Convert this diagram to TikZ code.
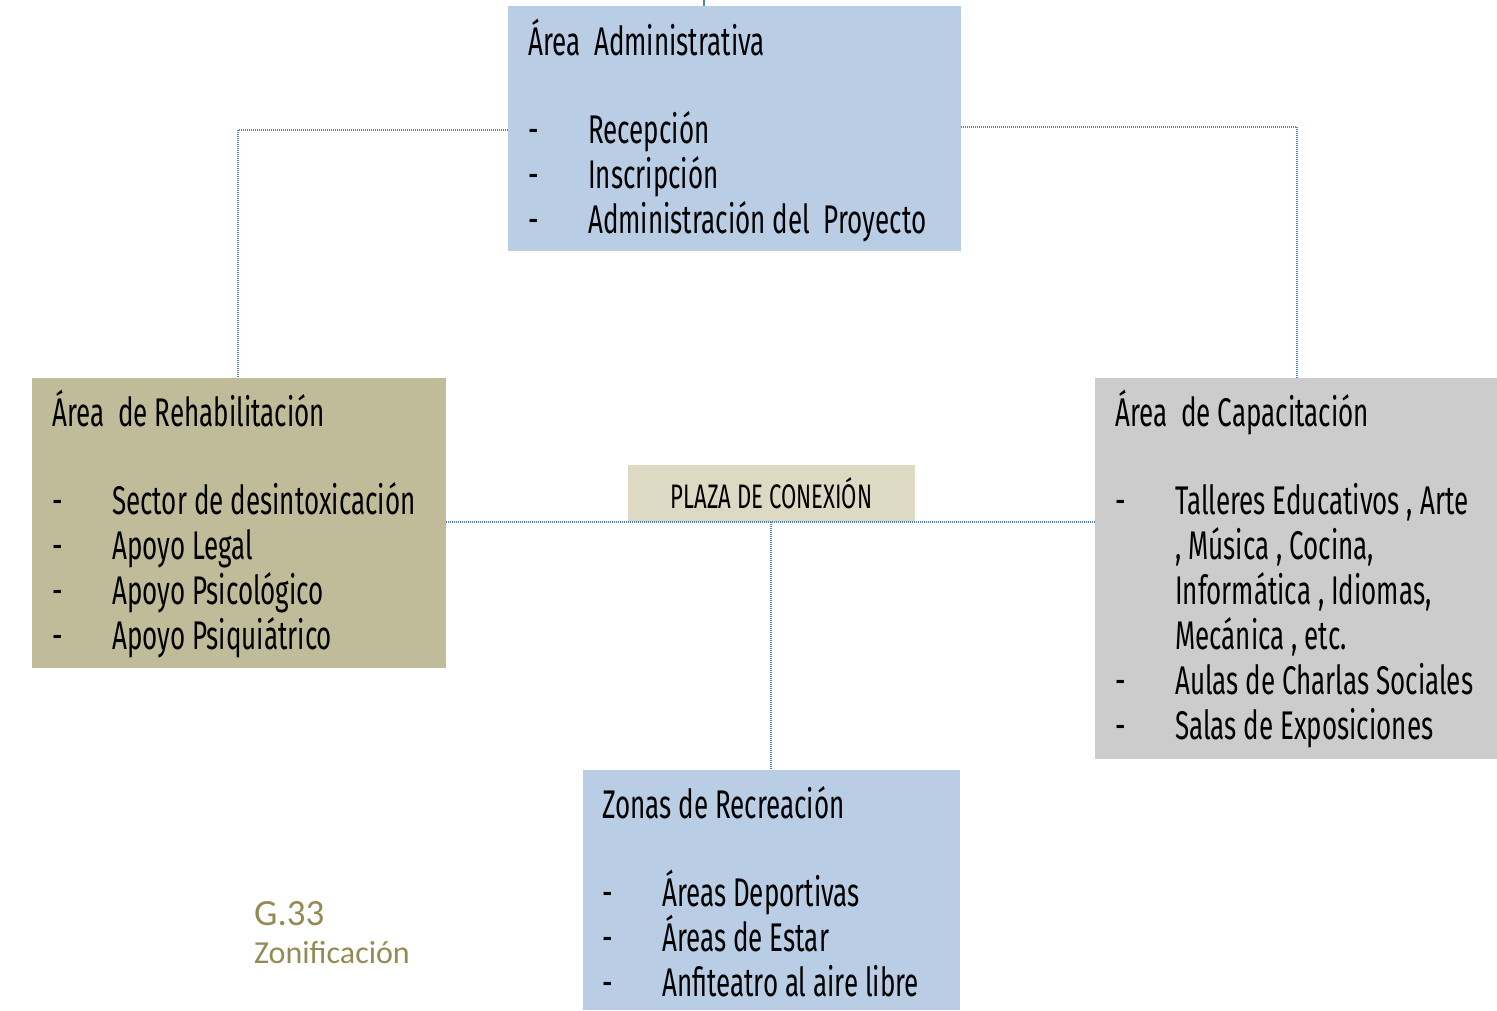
\documentclass[tikz,border=0pt]{standalone}
\usepackage{fontspec}
\setmainfont{Fira Sans}[FakeStretch=0.65]
\newfontfamily\capfont{Carlito}
\usetikzlibrary{positioning}
\definecolor{admblue}  {HTML}{B9CDE5}
\definecolor{rehabtan} {HTML}{C0BB99}
\definecolor{capgrey}  {HTML}{CCCCCC}
\definecolor{plazatan} {HTML}{DDD9C3}
\definecolor{linkblue} {HTML}{4F81BD}
\definecolor{olive}    {HTML}{948A54}
\tikzset{
  zone/.style   = {anchor=north west, inner sep=0pt, outer sep=0pt},
  ttl/.style    = {anchor=base west, inner sep=0pt, font=\fontsize{40}{45}\selectfont},
  itm/.style    = {ttl},
  link/.style   = {draw=linkblue, line width=1.2pt, dash pattern=on 1pt off 1pt},
}
\begin{document}
\begin{tikzpicture}[x=1pt,y=-1pt]
  \useasboundingbox (0,0) rectangle (1497,1011);

  % zones
  \node[zone, fill=admblue,  minimum width=453pt, minimum height=245pt] (adm)   at (508,6)   {};
  \node[zone, fill=rehabtan, minimum width=414pt, minimum height=290pt] (rehab) at (32,378)  {};
  \node[zone, fill=capgrey,  minimum width=402pt, minimum height=381pt] (cap)   at (1095,378) {};
  \node[zone, fill=plazatan, minimum width=287pt, minimum height=57pt]  (plaza) at (628,465) {};
  \node[zone, fill=admblue,  minimum width=377pt, minimum height=240pt] (rec)   at (583,770) {};

  % connectors
  \coordinate (top) at (704,0);
  \draw[draw=linkblue, line width=1.6pt] (top) -- (top |- adm.north);
  \draw[link] (adm.west |- 0,130) -| (rehab.north -| 238,0);
  \draw[link] (adm.east |- 0,127) -| (cap.north -| 1297,0);
  \draw[link] (rehab.east |- plaza.south) -- (cap.west |- plaza.south);
  \draw[link] (plaza.south -| 771,0) -- (rec.north -| 771,0);

  % plaza
  \node[inner sep=0pt, font=\fontsize{34}{38}\selectfont] (plazatxt) at (plaza.center) {PLAZA DE CONEXIÓN};

  % area administrativa
  \node[ttl] (admttl) at (528,56) {Área\ \ Administrativa};
  \foreach \t [count=\i] in {Recepción, Inscripción, Administración del\ \ Proyecto} {
    \node[itm] (admd\i) at (528,99+45*\i) {-};
    \node[itm] (admt\i) at (588,99+45*\i) {\t};
  }

  % area de rehabilitacion
  \node[ttl] (rehabttl) at (52,426) {Área\ \ de Rehabilitación};
  \foreach \t [count=\i] in {Sector de desintoxicación, Apoyo Legal, Apoyo Psicológico, Apoyo Psiquiátrico} {
    \node[itm] (rehabd\i) at (52,469+45*\i) {-};
    \node[itm] (rehabt\i) at (112,469+45*\i) {\t};
  }

  % area de capacitacion
  \node[ttl] (capttl) at (1115,426) {Área\ \ de Capacitación};
  \foreach \d/\t [count=\i] in {-/{Talleres Educativos , Arte}, {}/{, Música , Cocina,},
      {}/{Informática , Idiomas,}, {}/{Mecánica , etc.}, -/{Aulas de Charlas Sociales},
      -/{Salas de Exposiciones}} {
    \node[itm] (capd\i) at (1115,469+45*\i) {\d};
    \node[itm] (capt\i) at (1175,469+45*\i) {\t};
  }

  % zonas de recreacion
  \node[ttl] (recttl) at (602,818) {Zonas de Recreación};
  \foreach \t [count=\i] in {Áreas Deportivas, Áreas de Estar, Anfiteatro al aire libre} {
    \node[itm] (recd\i) at (602,861+45*\i) {-};
    \node[itm] (rect\i) at (662,861+45*\i) {\t};
  }

  % caption
  \node[anchor=base west, inner sep=0pt, text=olive, font=\capfont\fontsize{37}{40}\selectfont] (capnum) at (254,925) {G.33};
  \node[anchor=base west, inner sep=0pt, text=olive, font=\capfont\fontsize{32}{36}\selectfont] (capname) at (254,963) {Zonificación};
\end{tikzpicture}
\end{document}
